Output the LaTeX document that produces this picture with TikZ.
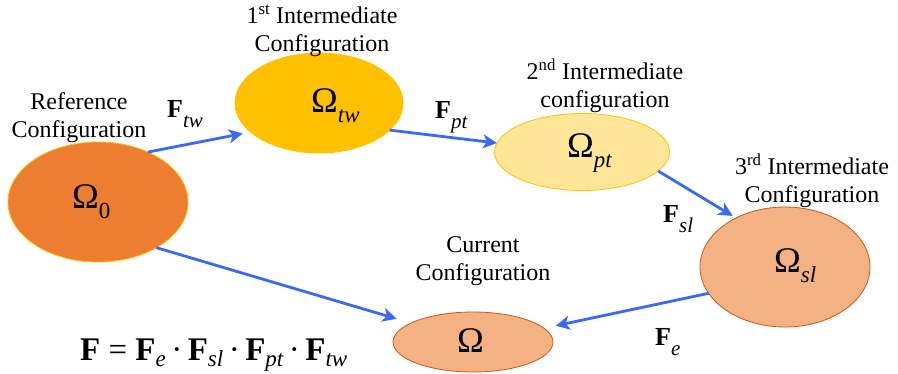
\documentclass[tikz,border=0pt]{standalone}
\usepackage{fontspec}
\setmainfont{Liberation Serif}
\usetikzlibrary{shapes.geometric,arrows.meta}
\definecolor{cOrange}{HTML}{ED7D31}
\definecolor{cGold}{HTML}{FFC000}
\definecolor{cLight}{HTML}{FFE699}
\definecolor{cPeach}{HTML}{F4B183}
\definecolor{cBrown}{HTML}{C55A11}
\definecolor{cBlue}{HTML}{3A68F7}
\newcommand\FF[2]{\textbf{F}\raisebox{-0.42em}{\fontsize{#2}{#2}\selectfont\itshape #1}}
\newcommand\FG[2]{\textbf{F}\raisebox{-0.2em}{\fontsize{#2}{#2}\selectfont\itshape #1}}
\newcommand\OM[2]{Ω\raisebox{-0.28em}{\fontsize{#2}{#2}\selectfont\itshape #1}}
\tikzset{
  conf/.style={ellipse, inner sep=0pt, outer sep=0pt, line width=0.8pt},
  caption/.style={align=center, font=\fontsize{24}{28}\selectfont, inner sep=0pt},
  flabel/.style={anchor=base west, inner sep=0pt, font=\fontsize{26}{26}\selectfont},
  olabel/.style={anchor=base west, inner sep=0pt, font=\fontsize{36}{36}\selectfont},
  conn/.style={draw=cBlue, line width=2.8pt, -{Stealth[length=14pt,width=14pt,inset=4pt]}},
}
\begin{document}
\begin{tikzpicture}[x=1pt,y=-1pt]
\useasboundingbox (0,0) rectangle (898,373);
% ellipses
\node[conf, fill=cOrange, draw=cGold, minimum width=180pt, minimum height=120pt] (o0) at (98,202) {};
\node[conf, fill=cGold, draw=cGold, minimum width=168pt, minimum height=100pt] (otw) at (319,103) {};
\node[conf, fill=cLight, draw=cGold, minimum width=175pt, minimum height=77pt] (opt) at (582,152) {};
\node[conf, fill=cPeach, draw=cBrown, minimum width=170pt, minimum height=120pt] (osl) at (785,267) {};
\node[conf, fill=cPeach, draw=cBrown, minimum width=160pt, minimum height=60pt] (om) at (473,342) {};
% omega labels
\node[olabel] (l0) at (72,208) {\OM{\upshape 0}{23}};
\node[olabel] (ltw) at (311,112) {\OM{tw}{23}};
\node[olabel] (lpt) at (567,157) {\OM{pt}{23}};
\node[olabel] (lsl) at (774,272) {\OM{sl}{23}};
\node[olabel] (lom) at (457,352) {Ω};
% captions
\node[caption] (c0) at (79,118) {Reference\\Configuration};
\node[caption] (c1) at (322,31) {1\textsuperscript{st} Intermediate\\Configuration};
\node[caption] (c2) at (605,86) {2\textsuperscript{nd} Intermediate\\configuration};
\node[caption] (c3) at (812,181) {3\textsuperscript{rd} Intermediate\\Configuration};
\node[caption] (c4) at (483,261) {Current\\Configuration};
% connectors
\draw[conn, shorten >=8pt] (o0.45) -- (otw.203);
\draw[conn] (otw.-21) -- (opt.174);
\draw[conn, shorten >=4pt] (opt.-14) -- (osl.135);
\draw[conn, shorten >=12pt] (osl.199) -- (om.11);
\draw[conn, shorten >=15pt] (o0.-38) -- (om.163);
% F labels
\node[flabel] (ftw) at (167,117) {\FF{tw}{21}};
\node[flabel] (fpt) at (435,118) {\FF{pt}{21}};
\node[flabel] (fsl) at (663,222) {\FF{sl}{21}};
\node[flabel] (fe) at (655,345) {\FF{e}{21}};
% formula
\node[anchor=base west, inner sep=0pt, font=\fontsize{33}{33}\selectfont] (eq) at (80,360)
  {\textbf{F} = \FG{e}{23}\,·\,\FG{sl}{23}\,·\,\FG{pt}{23}\,·\,\FG{tw}{23}};
\end{tikzpicture}
\end{document}
